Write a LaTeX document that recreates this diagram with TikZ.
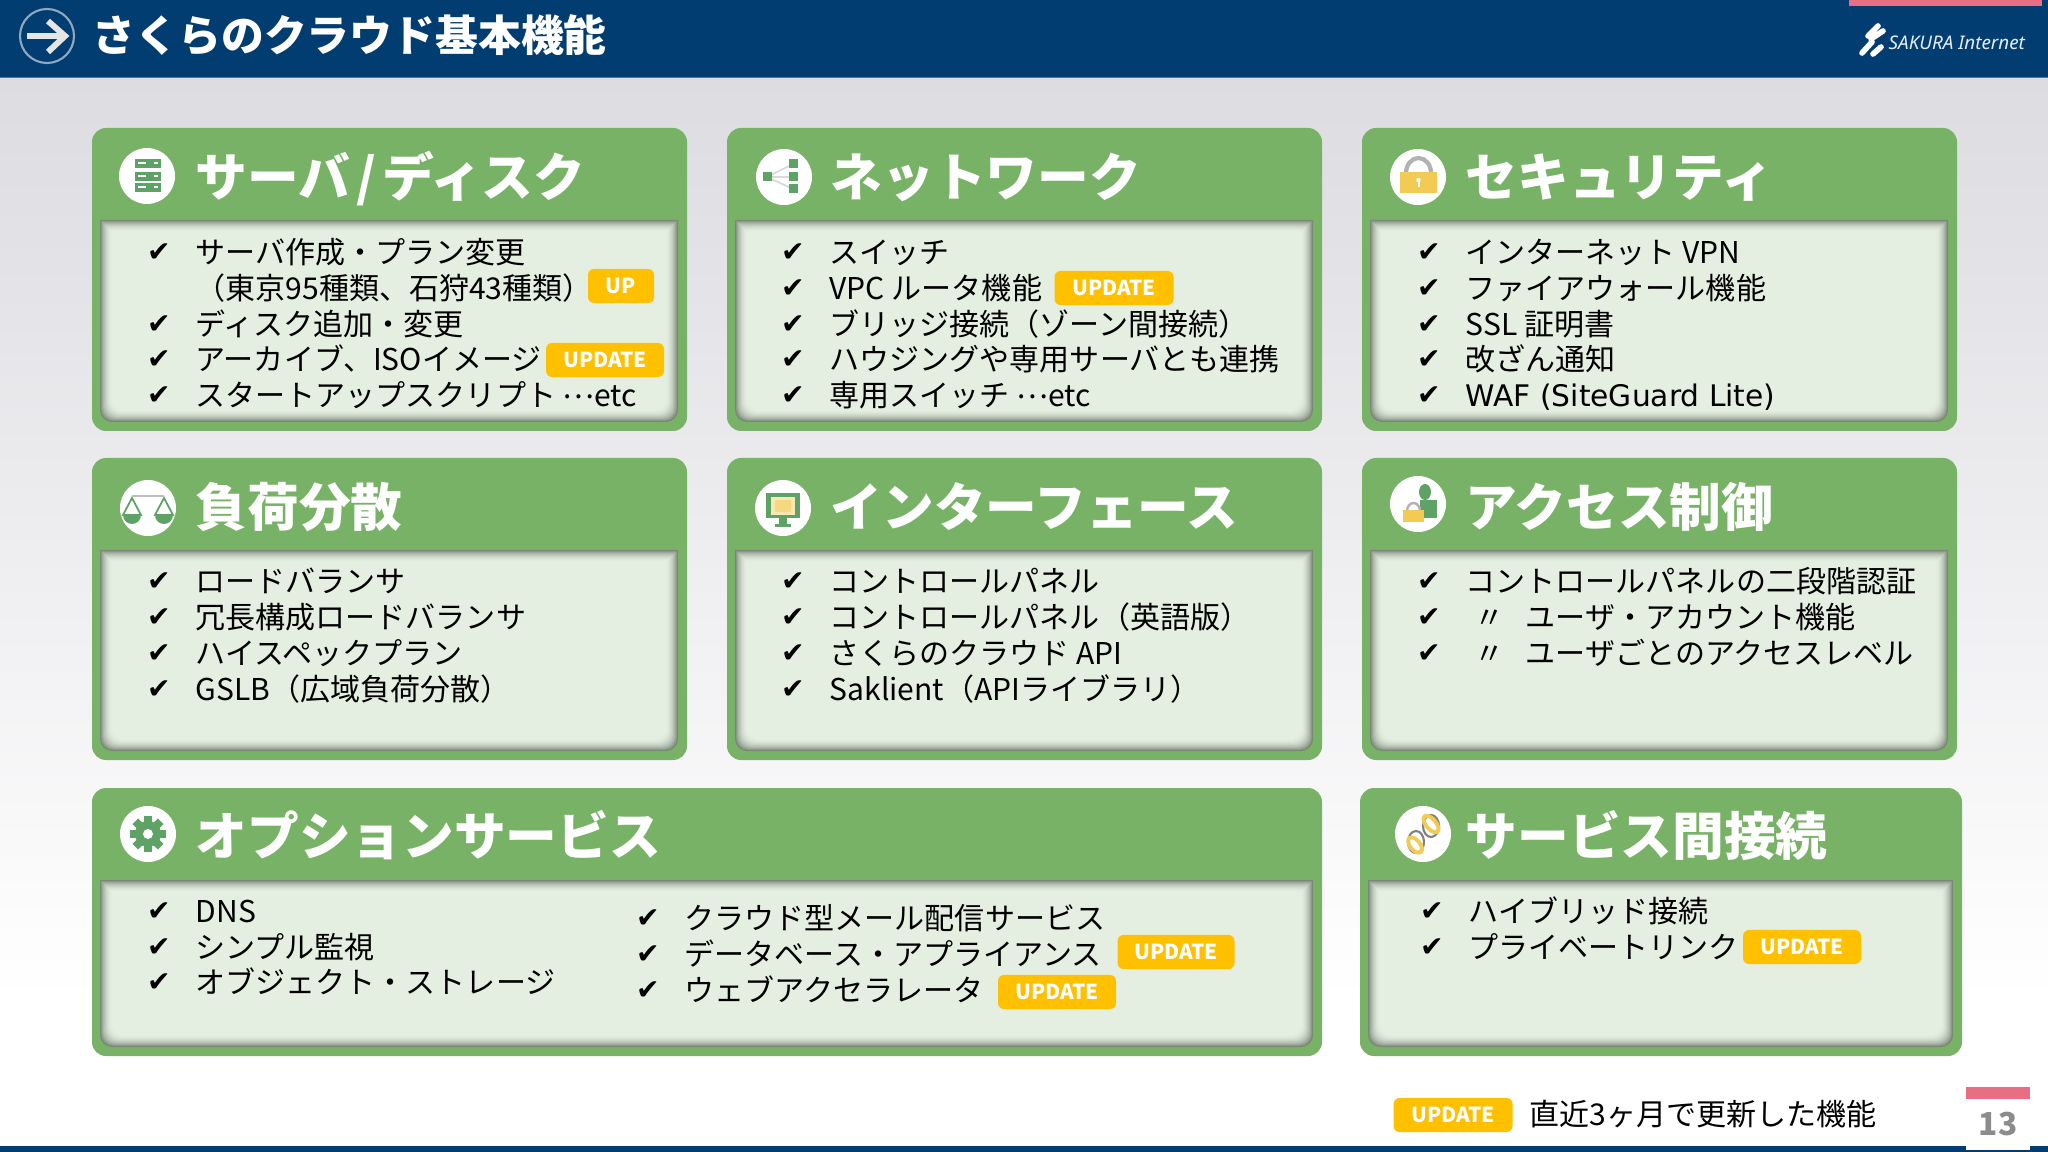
\documentclass[tikz,border=0pt]{standalone}
\usepackage{fontspec}
\setmainfont{Noto Sans CJK JP}
\newfontfamily\checkfont{DejaVu Sans}
\newfontfamily\latinfont{Noto Sans}
\newcommand{\widelatin}[1]{{\fontsize{8.45}{10}\checkfont #1}}
\newcommand{\middots}{\raisebox{2.3pt}{…}}
\definecolor{navy}{HTML}{013D70}
\definecolor{cardgreen}{HTML}{78B266}
\definecolor{innerfill}{HTML}{E4EFE2}
\definecolor{innershade}{HTML}{6E7B6A}
\definecolor{badgegold}{HTML}{FFC000}
\definecolor{pagepink}{HTML}{E66F84}
\definecolor{icongreen}{HTML}{5FA266}
\definecolor{lockgold}{HTML}{F2CB55}
\tikzset{
  itemtext/.style={anchor=west,inner sep=0pt,text height=7.85pt,text depth=0.85pt,font=\fontsize{8.54}{10}\selectfont},
  cardtitle/.style={anchor=west,inner sep=0pt,text=white,text height=12.3pt,text depth=1.2pt,font=\fontsize{14.7}{16}\selectfont\bfseries},
  tick/.style={inner sep=0pt,font=\fontsize{8}{10}\checkfont},
  badge/.style={fill=badgegold,rounded corners=0.06cm,inner sep=0pt,minimum height=0.34cm,text=white,font=\fontsize{5.9}{7}\selectfont\bfseries},
  iconbg/.style={fill=white}
}
\begin{document}
\begin{tikzpicture}[x=0.01cm,y=-0.01cm]
  \useasboundingbox (0,0) rectangle (2048,1152);
  \fill[white] (0,0) rectangle (2048,1152);
  \shade[top color=black!12!white!98!blue,bottom color=white] (0,78) rectangle (2048,1000);
  \fill[navy] (0,0) rectangle (2048,77);
  \fill[navy!70!white] (0,77) rectangle (2048,78.5);
  \fill[pagepink] (1849,0) rectangle (2042,6);
  \fill[navy] (0,1146) rectangle (2048,1152);
  \fill[white] (1966,1087) rectangle (2030,1150);
  \fill[pagepink] (1966,1087) rectangle (2030,1099);
  \node[inner sep=0pt,text=black!45,font=\fontsize{9}{10}\selectfont\bfseries] (pagenum) at (1998,1124) {13};

  \draw[line width=0.6pt,navy!45!white] (47,36) circle (27);
  \draw[line width=1.7pt,black!10!white] (27,36) -- (64,36);
  \draw[line width=1.7pt,black!10!white] (48,21) -- (65,36) -- (48,52);
  \node[anchor=west,inner sep=0pt,text=white,text height=10pt,text depth=1.5pt,font=\fontsize{12.18}{14}\selectfont\bfseries] (slidetitle) at (92,37) {さくらのクラウド基本機能};

  \draw[white,line width=1.6pt,line cap=round] (1868,36) -- (1878,26) (1871,39) -- (1883,31) (1862,53) -- (1872,42) (1873,54) -- (1881,47);
  \node[anchor=west,inner sep=0pt,text=white!90!navy,font=\fontsize{5.35}{7}\latinfont\itshape] (logotext) at (1888,43) {SAKURA Internet};

  \foreach \xa/\ya/\xb/\yb in {
    92/128/687/431, 727/128/1322/431, 1362/128/1957/431,
    92/458/687/760, 727/458/1322/760, 1362/458/1957/760,
    92/788/1322/1056, 1360/788/1962/1056
  }{
    \fill[cardgreen,rounded corners=0.14cm] (\xa,\ya) rectangle (\xb,\yb);
    \foreach \d/\p in {0/10,1/25,2/38,3/50,4/60,5/69,6/77,7/84,8/90,9/94,10/97,11/99,12/100}
      \fill[innerfill!\p!innershade] (\xa+8+\d,\ya+92+\d)
        -- (\xa+8+\d,\yb-21-\d) arc[start angle=180,end angle=90,radius=12]
        -- (\xb-21-\d,\yb-9-\d) arc[start angle=90,end angle=0,radius=12]
        -- (\xb-9-\d,\ya+92+\d) -- cycle;
  }

  \foreach \x/\y in {147/176, 784/177, 1418/177, 148/508, 783/508, 1418/504, 148/834, 1423/834}
    \fill[iconbg] (\x,\y) circle (28);

  \foreach \x/\y in {135/159, 135/172, 135/183}
    \fill[icongreen] (\x,\y) rectangle (\x+26,\y+9);
  \foreach \y in {163, 176, 187}
    \draw[white,line width=0.3pt] (138,\y) -- (146,\y) (154,\y) -- (158,\y);

  \draw[black!15,line width=0.5pt] (767,177) -- (793,164) (767,177) -- (793,177) (767,177) -- (793,189);
  \foreach \x/\y in {767/177, 793/164, 793/177, 793/189}
    \fill[icongreen] (\x-4.5,\y-4.5) rectangle (\x+4.5,\y+4.5);

  \draw[black!30,line width=1.2pt] (1406,173) arc[start angle=180,end angle=360,x radius=12.5,y radius=15];
  \fill[lockgold] (1400,172) rectangle (1437,193);
  \fill[white] (1418.5,180) circle (2.2);
  \fill[white] (1417.5,180) rectangle (1419.5,187);

  \draw[black!25,line width=0.3pt] (132,496) -- (164,496);
  \foreach \x in {132, 164}{
    \draw[icongreen,line width=0.5pt] (\x,498) -- (\x-9,515) -- (\x+9,515) -- cycle;
    \fill[icongreen] (\x-9,515) arc[start angle=180,end angle=0,radius=9] -- cycle;
  }

  \fill[icongreen] (766,493) rectangle (800,518);
  \fill[lockgold!45!white] (771,497) rectangle (795,515);
  \fill[lockgold!75!white] (775,500) rectangle (791,512);
  \fill[icongreen] (779,518) rectangle (787,524);
  \fill[icongreen] (775,524) rectangle (791,527);

  \fill[icongreen] (1425,492) ellipse (6 and 8);
  \fill[icongreen] (1420,500) rectangle (1437,518);
  \draw[black!30,line width=0.7pt] (1407,511) arc[start angle=180,end angle=360,x radius=6.5,y radius=8];
  \fill[lockgold] (1403,510) rectangle (1424,522);

  \foreach \a in {0,45,...,315}
    \fill[icongreen,rotate around={\a:(148,834)}] (144,816) rectangle (152,824);
  \fill[icongreen] (148,834) circle (13);
  \fill[white] (148,834) circle (5);

  \draw[black!50,line width=0.6pt] (1431,826) ellipse (8 and 11);
  \draw[black!50,line width=0.6pt] (1416,842) ellipse (8 and 11);
  \draw[lockgold,line width=1.1pt,rotate around={40:(1431,824)}] (1431,824) ellipse (5 and 10);
  \draw[lockgold,line width=1.1pt,rotate around={40:(1415,845)}] (1415,845) ellipse (5 and 9);

  \foreach \x/\y/\lbl [count=\n] in {
    195/177/{サーバ\kern1.7pt/\kern1.7ptディスク}, 830/177/ネットワーク, 1465/177/セキュリティ,
    195/507/負荷分散, 830/507/インターフェース, 1465/507/アクセス制御,
    195/836/オプションサービス, 1465/836/サービス間接続
  }
    \node[cardtitle] (head\n) at (\x,\y) {\lbl};

  \foreach \x/\y/\lbl [count=\n] in {
    195/251/サーバ作成・プラン変更, 195/323/ディスク追加・変更,
    195/358/アーカイブ、ISOイメージ, 195/394/スタートアップスクリプト \middots etc,
    829/251/スイッチ, 829/287/VPC ルータ機能, 829/323/ブリッジ接続（ゾーン間接続）,
    829/358/ハウジングや専用サーバとも連携, 829/394/専用スイッチ \middots etc,
    1465/251/インターネット VPN, 1465/287/ファイアウォール機能, 1465/323/SSL 証明書,
    1465/358/改ざん通知, 1465/394/\widelatin{WAF (SiteGuard Lite)},
    195/580/ロードバランサ, 195/616/冗長構成ロードバランサ, 195/652/ハイスペックプラン,
    195/688/GSLB（広域負荷分散）,
    829/580/コントロールパネル, 829/616/コントロールパネル（英語版）,
    829/652/さくらのクラウド API, 829/688/Saklient（APIライブラリ）,
    1465/580/コントロールパネルの二段階認証, 1465/616/\kern2.5pt〃\kern-2.5pt　ユーザ・アカウント機能,
    1465/652/\kern2.5pt〃\kern-2.5pt　ユーザごとのアクセスレベル,
    195/910/DNS, 195/946/シンプル監視, 195/981/オブジェクト・ストレージ,
    684/917/クラウド型メール配信サービス, 684/953/データベース・アプライアンス,
    684/989/ウェブアクセラレータ,
    1468/910/ハイブリッド接続, 1468/946/プライベートリンク
  }{
    \node[tick] (tick\n) at (\x-36,\y+1.5) {✔};
    \node[itemtext] (item\n) at (\x,\y) {\lbl};
  }
  \node[itemtext] (itemcont) at (195,287) {（東京95種類、石狩43種類）};

  \foreach \x/\y/\w/\lbl [count=\n] in {
    621/286/66/UP, 605/360/118/UPDATE, 1114/288/119/UPDATE,
    1802/947/118/UPDATE, 1176/952/117/UPDATE, 1057/992/118/UPDATE,
    1453/1115/119/UPDATE
  }
    \node[badge,minimum width=\w*0.01cm] (badge\n) at (\x,\y) {\lbl};

  \node[itemtext] (legendtext) at (1529,1113) {直近3ヶ月で更新した機能};
\end{tikzpicture}
\end{document}
